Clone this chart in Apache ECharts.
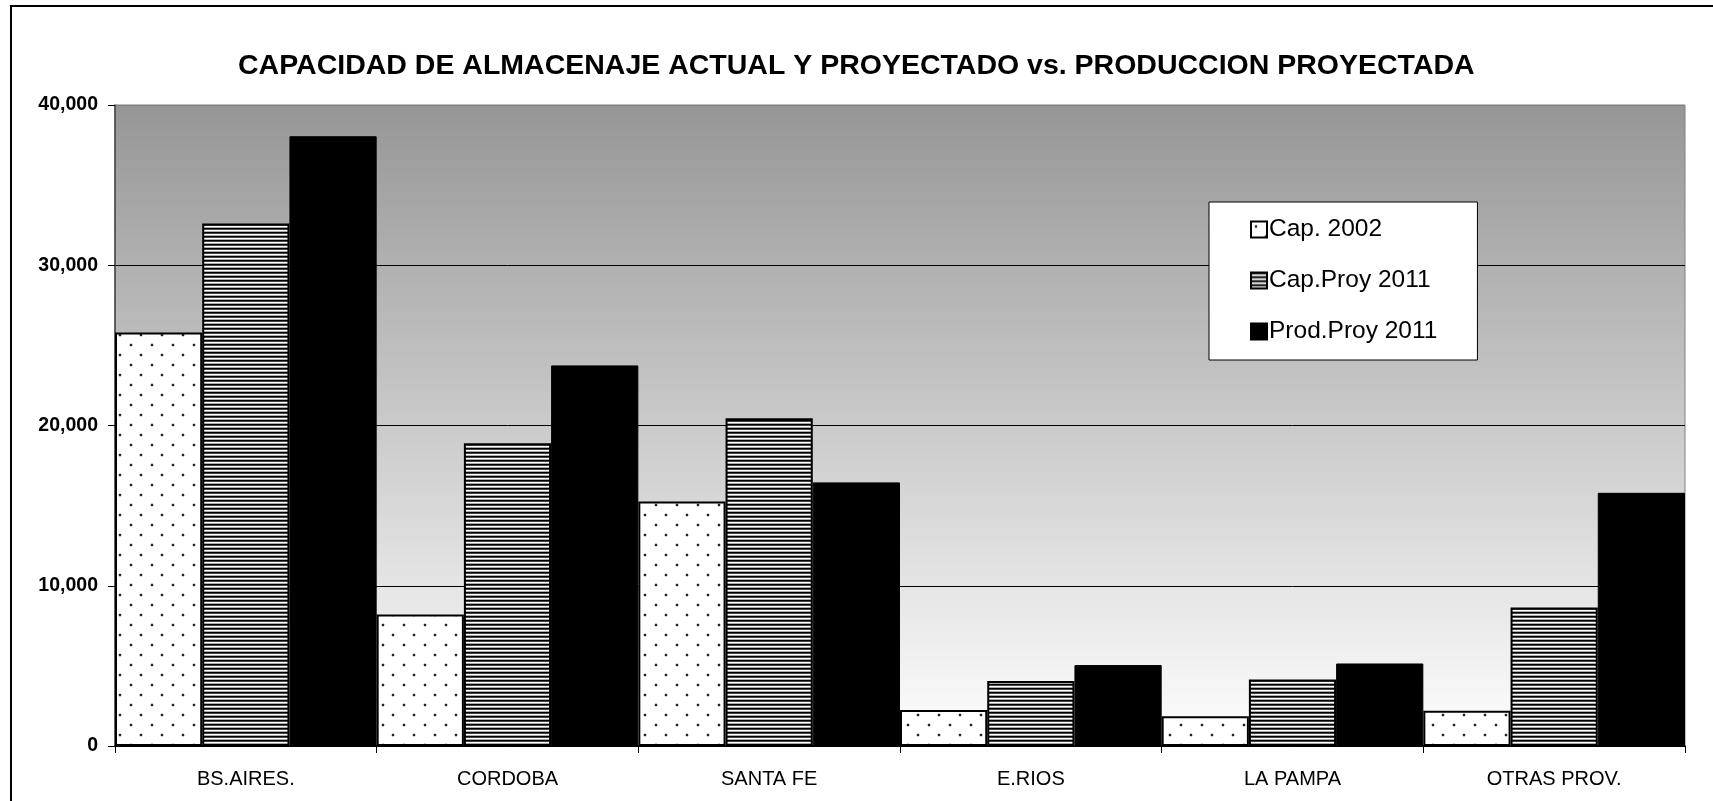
<!DOCTYPE html>
<html>
<head>
<meta charset="utf-8">
<title>Capacidad de almacenaje</title>
<script src="https://cdn.jsdelivr.net/npm/echarts@6/dist/echarts.min.js"></script>
<style>
  html, body { margin: 0; padding: 0; background: #ffffff; }
  #chart { width: 1713px; height: 801px; }
</style>
</head>
<body>
<div id="chart"></div>
<script>
// Provinces and storage / production figures
const categories = ['BS.AIRES.', 'CORDOBA', 'SANTA FE', 'E.RIOS', 'LA PAMPA', 'OTRAS PROV.'];
const cap2002 = [25800, 8200, 15250, 2250, 1850, 2200];
const capProy2011 = [32600, 18900, 20450, 4050, 4150, 8650];
const prodProy2011 = [38050, 23750, 16450, 5050, 5150, 15800];
const seriesNames = ['Cap. 2002', 'Cap.Proy 2011', 'Prod.Proy 2011'];
const titleText = 'CAPACIDAD DE ALMACENAJE ACTUAL Y PROYECTADO vs. PRODUCCION PROYECTADA';

const FONT = '"Liberation Sans", Arial, sans-serif';

// Dotted fill: staggered dark dots on white
function dotPattern() {
  const c = document.createElement('canvas');
  c.width = 21; c.height = 20;
  const g = c.getContext('2d');
  g.fillStyle = '#ffffff';
  g.fillRect(0, 0, 21, 20);
  g.fillStyle = '#d0d0d0';
  g.fillRect(4, 3, 2, 4);
  g.fillRect(3, 4, 4, 2);
  g.fillRect(14, 13, 2, 4);
  g.fillRect(13, 14, 4, 2);
  g.fillStyle = '#222222';
  g.fillRect(4, 4, 2, 2);
  g.fillRect(14, 14, 2, 2);
  return c;
}

// Horizontal hatch: dark lines separated by thin light lines
function hatchPattern() {
  const c = document.createElement('canvas');
  c.width = 8; c.height = 4;
  const g = c.getContext('2d');
  const rows = ['#000000', '#444444', '#ffffff', '#aaaaaa'];
  rows.forEach((col, i) => { g.fillStyle = col; g.fillRect(0, i, 8, 1); });
  return c;
}

const fills = [
  { image: dotPattern(), repeat: 'repeat' },
  { image: hatchPattern(), repeat: 'repeat' },
  '#000000'
];
const values = [cap2002, capProy2011, prodProy2011];

const chart = echarts.init(document.getElementById('chart'), null, { renderer: 'canvas' });

chart.setOption({
  backgroundColor: '#ffffff',
  animation: false,
  title: {
    text: titleText,
    left: 238,
    top: 52,
    padding: 0,
    textStyle: { fontFamily: FONT, fontSize: 28.5, fontWeight: 'bold', color: '#000000' }
  },
  legend: {
    orient: 'vertical',
    left: 1209,
    top: 202,
    padding: [15, 40, 16, 41],
    itemGap: 26,
    itemWidth: 16,
    itemHeight: 16,
    itemStyle: { borderColor: '#000000', borderWidth: 2 },
    backgroundColor: '#ffffff',
    borderColor: '#000000',
    borderWidth: 1,
    borderRadius: 0,
    textStyle: { fontFamily: FONT, fontSize: 24.5, color: '#000000', padding: [0, 0, 0, -3], lineHeight: 24 },
    data: seriesNames.map(n => ({ name: n, icon: 'rect' }))
  },
  grid: {
    left: 115,
    right: 28,
    top: 105,
    bottom: 55,
    show: true,
    borderColor: '#808080',
    borderWidth: 1,
    backgroundColor: {
      type: 'linear', x: 0, y: 0, x2: 0, y2: 1,
      colorStops: [
        { offset: 0, color: '#969696' },
        { offset: 1, color: '#ffffff' }
      ]
    }
  },
  xAxis: {
    type: 'category',
    data: categories,
    axisLine: { show: true, lineStyle: { color: '#000000', width: 1.5 } },
    axisTick: { show: true, length: 7, lineStyle: { color: '#000000' } },
    axisLabel: { fontFamily: FONT, fontSize: 20, color: '#000000', margin: 23 },
    splitLine: { show: false }
  },
  yAxis: {
    type: 'value',
    min: 0,
    max: 40000,
    interval: 10000,
    axisLine: { show: true, lineStyle: { color: '#444444', width: 1.5 } },
    axisTick: { show: true, length: 7, lineStyle: { color: '#000000' } },
    axisLabel: {
      fontFamily: FONT, fontSize: 19.5, fontWeight: 'bold', color: '#000000', margin: 17,
      formatter: v => v.toLocaleString('en-US')
    },
    splitLine: { show: true, lineStyle: { color: ['#000000', '#000000', '#000000', '#000000', '#808080'], width: 1 } }
  },
  series: seriesNames.map((name, i) => ({
    name: name,
    type: 'bar',
    data: values[i],
    barGap: '0%',
    barCategoryGap: '0%',
    itemStyle: { color: fills[i], borderColor: '#000000', borderWidth: i === 2 ? 1 : 2 }
  })),
  graphic: [{
    type: 'rect',
    silent: true,
    shape: { x: 11, y: 6, width: 1760, height: 860 },
    style: { fill: null, stroke: '#000000', lineWidth: 2 },
    z: 100
  }]
});
</script>
</body>
</html>
